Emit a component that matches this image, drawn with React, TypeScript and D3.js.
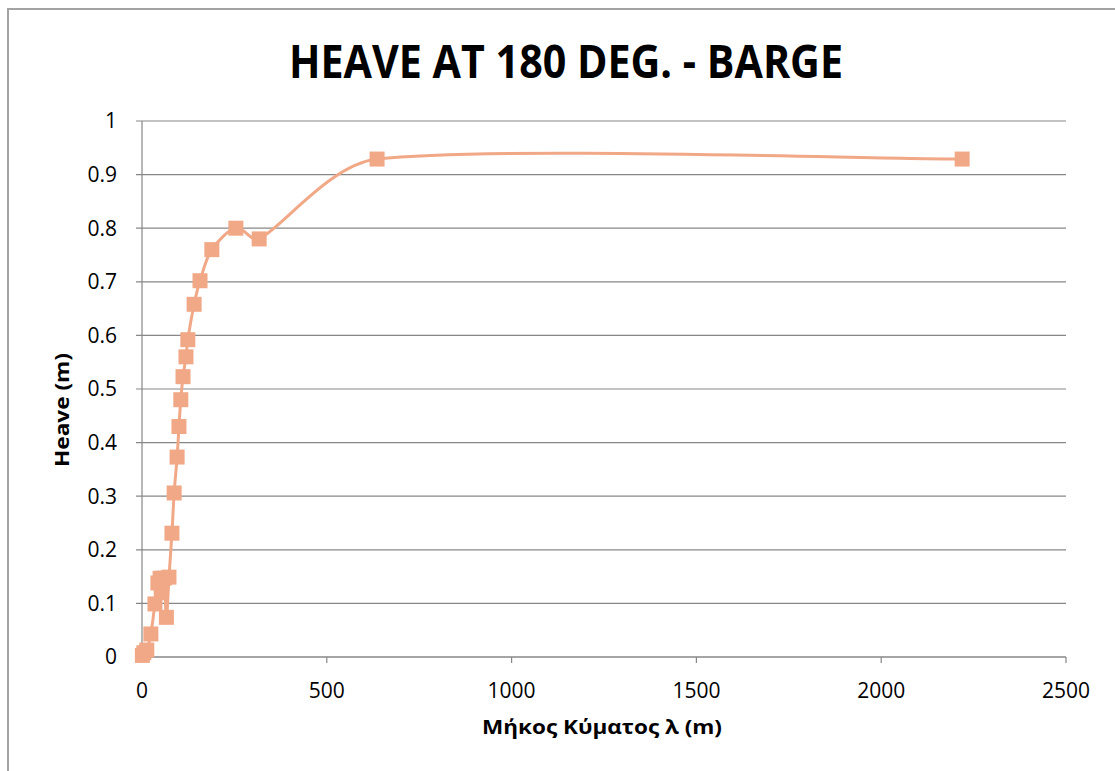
import React from "react";
import * as d3 from "d3";

// Wavelength λ (m) and heave response (m) for the barge at 180°
const wavelength = [1, 5, 13, 24, 35, 43, 49, 52, 60, 66, 73, 81, 87, 95, 100, 105, 111, 119, 124, 141, 157, 189, 254, 317, 636, 2219];
const heave = [0.003, 0.008, 0.013, 0.043, 0.099, 0.138, 0.147, 0.12, 0.147, 0.074, 0.149, 0.231, 0.306, 0.373, 0.43, 0.48, 0.523, 0.56, 0.592, 0.658, 0.702, 0.76, 0.8, 0.78, 0.929, 0.929];

const xTicks = [0, 500, 1000, 1500, 2000, 2500];
const yTicks = [0, 0.1, 0.2, 0.3, 0.4, 0.5, 0.6, 0.7, 0.8, 0.9, 1];

const title = "HEAVE AT 180 DEG. - BARGE";
const xTitle = "Μήκος Κύματος λ (m)";
const yTitle = "Heave (m)";

const W = 1115;
const H = 771;
const plot = { left: 142, right: 1066, top: 121, bottom: 657 };
const seriesColor = "#F1A887";
const gridColor = "#878787";
const font = "'Open Sans', sans-serif";

// Smoothed polyline: cubic Béziers with Catmull-Rom tangents (1/6 of the
// neighbour chord), each handle limited to a third of its own segment.
function smoothPath(pts: [number, number][]): string {
  const p = d3.path();
  const n = pts.length;
  if (!n) return "";
  p.moveTo(pts[0][0], pts[0][1]);
  const tangent = (i: number): [number, number] => {
    const a = pts[Math.max(0, i - 1)];
    const b = pts[Math.min(n - 1, i + 1)];
    return [(b[0] - a[0]) / 6, (b[1] - a[1]) / 6];
  };
  const limit = (t: [number, number], seg: number): [number, number] => {
    const len = Math.hypot(t[0], t[1]);
    const max = seg / 3;
    return len > max && len > 0 ? [(t[0] * max) / len, (t[1] * max) / len] : t;
  };
  for (let i = 0; i < n - 1; i++) {
    const a = pts[i];
    const b = pts[i + 1];
    const seg = Math.hypot(b[0] - a[0], b[1] - a[1]);
    const ta = limit(tangent(i), seg);
    const tb = limit(tangent(i + 1), seg);
    p.bezierCurveTo(a[0] + ta[0], a[1] + ta[1], b[0] - tb[0], b[1] - tb[1], b[0], b[1]);
  }
  return p.toString();
}

export default function App() {
  const x = d3.scaleLinear().domain([0, 2500]).range([plot.left, plot.right]);
  const y = d3.scaleLinear().domain([0, 1]).range([plot.bottom, plot.top]);

  const points = wavelength.map((w, i) => [w, heave[i]] as [number, number]);
  const screen = points.map((d) => [x(d[0]), y(d[1])] as [number, number]);

  const fmtY = (v: number) => (v === 0 || v === 1 ? String(v) : v.toFixed(1));

  return (
    <svg
      width={W}
      height={H}
      style={{ position: "absolute", left: 0, top: 0, background: "#fff" }}
    >
      <rect x={0} y={0} width={W} height={H} fill="#fff" />
      {/* chart frame */}
      <rect x={8} y={9} width={W + 10} height={H + 10} fill="none" stroke="#a3a3a3" strokeWidth={2} />

      <text
        x={566}
        y={78}
        textAnchor="middle"
        fontFamily={font}
        fontWeight={700}
        fontSize={47}
        textLength={554}
        lengthAdjust="spacingAndGlyphs"
      >
        {title}
      </text>

      {/* horizontal gridlines and y ticks */}
      {yTicks.map((t) => (
        <g key={"y" + t}>
          <line x1={plot.left - 6} x2={plot.right} y1={y(t)} y2={y(t)} stroke={gridColor} strokeWidth={1.2} />
          <text
            x={117}
            y={y(t)}
            dy="0.35em"
            textAnchor="end"
            fontFamily={font}
            fontSize={21}
            fill="#000"
          >
            {fmtY(t)}
          </text>
        </g>
      ))}

      {/* axes */}
      <line x1={plot.left} x2={plot.left} y1={plot.top} y2={plot.bottom} stroke={gridColor} strokeWidth={1.2} />
      <line x1={plot.left} x2={plot.right} y1={plot.bottom} y2={plot.bottom} stroke={gridColor} strokeWidth={1.2} />
      {xTicks.map((t) => (
        <g key={"x" + t}>
          <line x1={x(t)} x2={x(t)} y1={plot.bottom} y2={plot.bottom + 6} stroke={gridColor} strokeWidth={1.2} />
          <text
            x={x(t)}
            y={691}
            dy="0.35em"
            textAnchor="middle"
            fontFamily={font}
            fontSize={21}
            fill="#000"
          >
            {t}
          </text>
        </g>
      ))}

      <text
        x={602}
        y={727}
        dy="0.35em"
        textAnchor="middle"
        fontFamily={font}
        fontWeight={700}
        fontSize={20}
        textLength={240}
        lengthAdjust="spacingAndGlyphs"
      >
        {xTitle}
      </text>
      <text
        transform={`translate(62, 410) rotate(-90)`}
        dy="0.35em"
        textAnchor="middle"
        fontFamily={font}
        fontWeight={700}
        fontSize={20}
        textLength={114}
        lengthAdjust="spacingAndGlyphs"
      >
        {yTitle}
      </text>

      {/* series */}
      <path d={smoothPath(screen)} fill="none" stroke={seriesColor} strokeWidth={3} />
      {screen.map((p, i) => (
        <rect key={i} x={p[0] - 7.5} y={p[1] - 7.5} width={15} height={15} fill={seriesColor} />
      ))}
    </svg>
  );
}
